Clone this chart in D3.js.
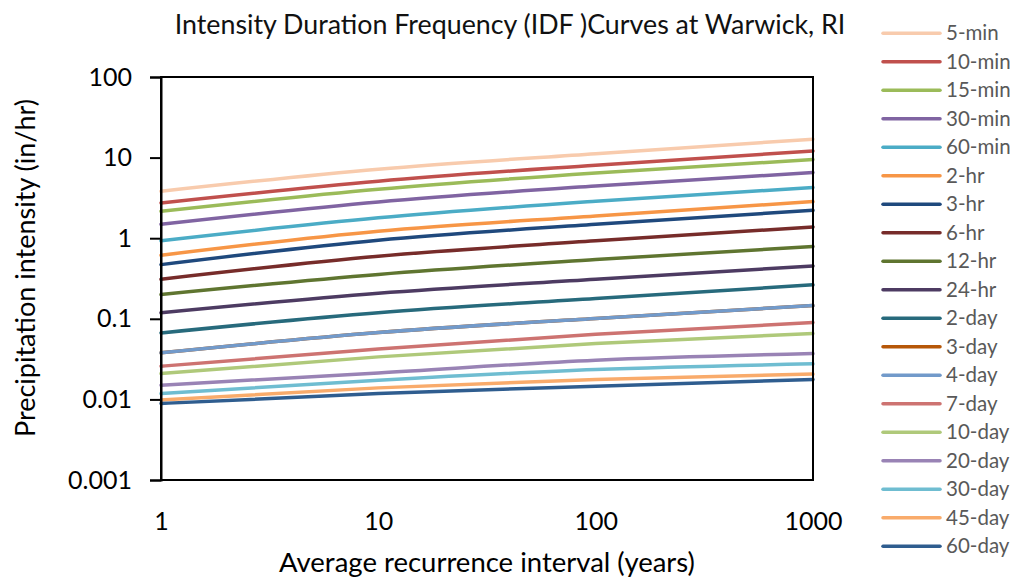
<!DOCTYPE html>
<html>
<head>
<meta charset="utf-8">
<script src="https://cdn.jsdelivr.net/npm/d3@7"></script>
<style>
  html, body { margin: 0; padding: 0; background: #fff; }
  svg { display: block; }
</style>
</head>
<body>
<svg id="chart" width="1015" height="578"></svg>
<script>
// ---- Data ----
const recurrenceYears = [1, 10, 100, 1000];
const durations = ["5-min","10-min","15-min","30-min","60-min","2-hr","3-hr","6-hr","12-hr","24-hr",
                   "2-day","3-day","4-day","7-day","10-day","20-day","30-day","45-day","60-day"];
const seriesColors = ["#F8CBAD","#C0504D","#9BBB59","#8064A2","#4BACC6","#F79646","#1F497D","#772C2A",
                      "#5F7530","#4D3B62","#276A7C","#B65708","#729ACA","#CD7371","#AFC97A","#9983B5",
                      "#6FBDD1","#F9AB6B","#2F5D8F"];
const int5min   = [3.83, 7.18, 11.2, 16.9];
const int10min  = [2.74, 5.10, 8.05, 12.1];
const int15min  = [2.16, 4.05, 6.46, 9.47];
const int30min  = [1.49, 2.82, 4.45, 6.53];
const int60min  = [0.93, 1.79, 2.88, 4.26];
const int2hr    = [0.615, 1.22, 1.89, 2.85];
const int3hr    = [0.47, 0.944, 1.49, 2.22];
const int6hr    = [0.31, 0.598, 0.927, 1.38];
const int12hr   = [0.20, 0.355, 0.543, 0.789];
const int24hr   = [0.119, 0.208, 0.31, 0.453];
const int2day   = [0.0668, 0.119, 0.178, 0.264];
const int3day   = [0.0378, 0.0676, 0.101, 0.146];
const int4day   = [0.0378, 0.0676, 0.101, 0.146];
const int7day   = [0.0258, 0.0423, 0.0644, 0.090];
const int10day  = [0.0209, 0.0337, 0.0493, 0.0657];
const int20day  = [0.0150, 0.0213, 0.0306, 0.037];
const int30day  = [0.0118, 0.0173, 0.0235, 0.0276];
const int45day  = [0.0098, 0.0139, 0.0177, 0.0206];
const int60day  = [0.0089, 0.0118, 0.0146, 0.0177];
const seriesValues = [int5min,int10min,int15min,int30min,int60min,int2hr,int3hr,int6hr,int12hr,int24hr,
                      int2day,int3day,int4day,int7day,int10day,int20day,int30day,int45day,int60day];
const xTicks = [1, 10, 100, 1000];
const yTicks = [0.001, 0.01, 0.1, 1, 10, 100];
const yTickLabels = ["0.001","0.01","0.1","1","10","100"];

(function () {
// ---- Layout ----
const svg = d3.select("#chart");
const mLeft = 161, mRight = 813, mTop = 77, mBottom = 480;
const FONT = "Lato, 'Open Sans', sans-serif";

const x = d3.scaleLog().domain([1, 1000]).range([mLeft, mRight]);
const y = d3.scaleLog().domain([0.001, 100]).range([mBottom, mTop]);

// Title
svg.append("text")
  .attr("x", 510).attr("y", 34)
  .attr("text-anchor", "middle")
  .attr("font-family", FONT).attr("font-size", 26.8)
  .attr("fill", "#111")
  .text("Intensity Duration Frequency (IDF )Curves at Warwick, RI");

// Series lines
const line = d3.line()
  .x((d, i) => x(recurrenceYears[i]))
  .y(d => y(d))
  .curve(d3.curveMonotoneX);

svg.append("g").selectAll("path")
  .data(seriesValues)
  .join("path")
  .attr("d", d => line(d))
  .attr("fill", "none")
  .attr("stroke", (d, i) => seriesColors[i])
  .attr("stroke-width", 3.5)
  .attr("stroke-linecap", "round");

// Plot frame
svg.append("rect")
  .attr("x", mLeft).attr("y", mTop)
  .attr("width", mRight - mLeft).attr("height", mBottom - mTop)
  .attr("fill", "none").attr("stroke", "#000").attr("stroke-width", 2);

// Y axis
const yAxis = d3.axisLeft(y)
  .tickValues(yTicks)
  .tickSize(11)
  .tickPadding(6)
  .tickFormat((d, i) => yTickLabels[i]);
const gy = svg.append("g").attr("transform", `translate(${mLeft},0)`).call(yAxis);
gy.select(".domain").attr("stroke", "#000").attr("stroke-width", 2);
gy.selectAll(".tick line").attr("stroke", "#000").attr("stroke-width", 2);
gy.selectAll(".tick text")
  .attr("font-family", FONT).attr("font-size", 25).attr("fill", "#000")
  .attr("x", -29);

// X axis
const xAxis = d3.axisBottom(x)
  .tickValues(xTicks)
  .tickSize(0)
  .tickPadding(32)
  .tickFormat(d3.format("d"));
const gx = svg.append("g").attr("transform", `translate(0,${mBottom})`).call(xAxis);
gx.select(".domain").remove();
gx.selectAll(".tick text")
  .attr("font-family", FONT).attr("font-size", 25).attr("fill", "#000");

// Axis titles
svg.append("text")
  .attr("x", 487).attr("y", 572)
  .attr("text-anchor", "middle")
  .attr("font-family", FONT).attr("font-size", 27.5).attr("fill", "#000")
  .text("Average recurrence interval (years)");

svg.append("text")
  .attr("transform", "translate(35,268) rotate(-90)")
  .attr("text-anchor", "middle")
  .attr("font-family", FONT).attr("font-size", 27).attr("fill", "#000")
  .text("Precipitation intensity (in/hr)");

// Legend
const legend = svg.append("g");
const legY0 = 33.3, legStep = 28.5;
const items = legend.selectAll("g").data(durations).join("g")
  .attr("transform", (d, i) => `translate(0,${legY0 + i * legStep})`);
items.append("line")
  .attr("x1", 883).attr("x2", 940).attr("y1", 0).attr("y2", 0)
  .attr("stroke", (d, i) => seriesColors[i])
  .attr("stroke-width", 3.5)
  .attr("stroke-linecap", "round");
items.append("text")
  .attr("x", 946).attr("y", 0).attr("dy", "0.35em")
  .attr("font-family", FONT).attr("font-size", 20.5).attr("fill", "#595959")
  .text(d => d);
})();
</script>
</body>
</html>
